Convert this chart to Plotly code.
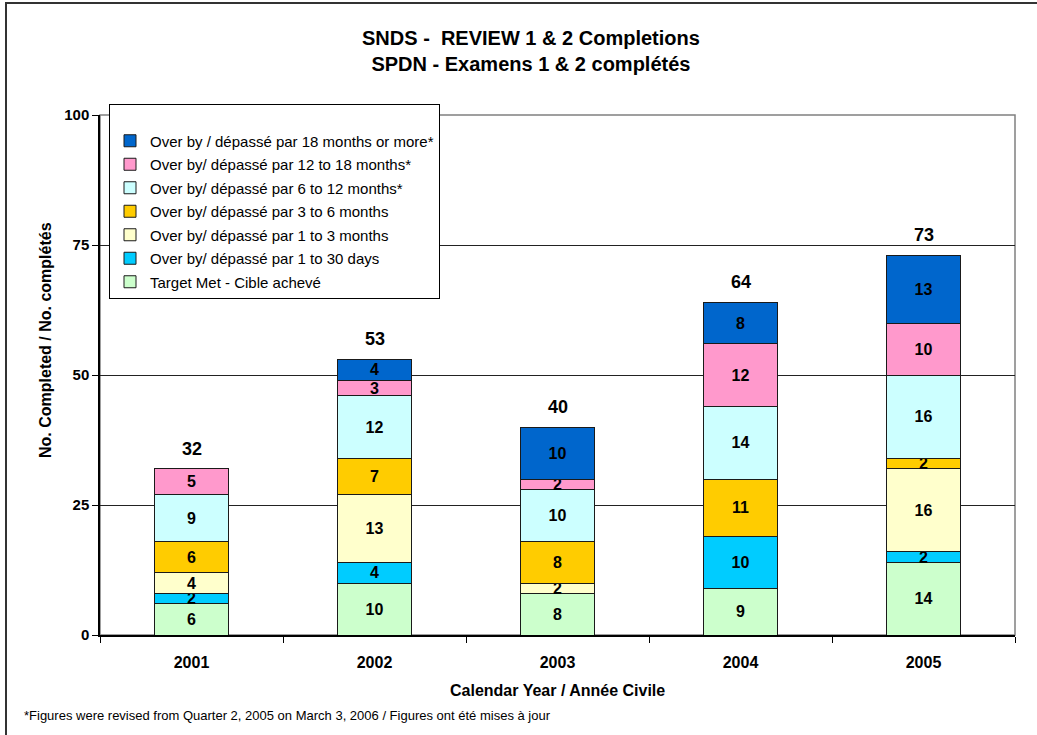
import plotly.graph_objects as go

years = ["2001", "2002", "2003", "2004", "2005"]

series_names = [
    "Target Met - Cible achevé",
    "Over by/ dépassé par 1 to 30 days",
    "Over by/ dépassé par 1 to 3 months",
    "Over by/ dépassé par 3 to 6 months",
    "Over by/ dépassé par 6 to 12 months*",
    "Over by/ dépassé par 12 to 18 months*",
    "Over by / dépassé par 18 months or more*",
]
target_met = [6, 10, 8, 9, 14]
days_1_30 = [2, 4, 0, 10, 2]
months_1_3 = [4, 13, 2, 0, 16]
months_3_6 = [6, 7, 8, 11, 2]
months_6_12 = [9, 12, 10, 14, 16]
months_12_18 = [5, 3, 2, 12, 10]
months_18_plus = [0, 4, 10, 8, 13]

series_values = [target_met, days_1_30, months_1_3, months_3_6,
                 months_6_12, months_12_18, months_18_plus]
series_colors = ["#CCFFCC", "#00CCFF", "#FFFFCC", "#FFCC00",
                 "#CCFFFF", "#FF99CC", "#0066CC"]

totals = [sum(v[i] for v in series_values) for i in range(len(years))]

y_ticks = [0, 25, 50, 75, 100]

FONT = "Liberation Sans, Arial, sans-serif"

fig = go.Figure()
n = len(series_names)
for i, (name, vals, col) in enumerate(zip(series_names, series_values, series_colors)):
    fig.add_trace(go.Bar(
        x=years, y=vals, name=name, legendgroup="g%d" % i, legendrank=100 + n - i,
        marker=dict(color=col, line=dict(color="#1a1a1a", width=1)),
        text=[str(v) if v else "" for v in vals],
        textposition="inside", insidetextanchor="middle", textangle=0,
        constraintext="none",
        textfont=dict(family=FONT, size=16, color="black", weight="bold"),
        hoverinfo="skip",
    ))

for i, tot in enumerate(totals):
    fig.add_annotation(x=i, y=tot, xref="x", yref="y", text="<b>%d</b>" % tot,
                       showarrow=False, yanchor="bottom", yshift=8,
                       font=dict(family=FONT, size=18, color="black"))

# plot-area border (grey, Excel style)
fig.add_shape(type="rect", xref="paper", yref="paper", x0=0, x1=1, y0=0, y1=1,
              line=dict(color="#808080", width=1.5), layer="below")
# outer chart frame
fig.add_shape(type="rect", xref="paper", yref="paper",
              x0=(6 - 100) / 915, x1=1.2, y0=-0.3, y1=(635 - 3) / 520,
              line=dict(color="#333333", width=2))

fig.add_annotation(xref="paper", yref="paper", x=(22 - 100) / 915, y=(635 - 715) / 520,
                   xanchor="left", yanchor="middle", showarrow=False,
                   text="*Figures were revised from Quarter 2, 2005 on March 3, 2006 / Figures ont été mises à jour",
                   font=dict(family=FONT, size=13, color="black"))

# axis titles
fig.add_annotation(xref="paper", yref="paper", x=(557 - 100) / 915, y=(635 - 690) / 520,
                   xanchor="center", yanchor="middle", showarrow=False,
                   text="<b>Calendar Year / Année Civile</b>",
                   font=dict(family=FONT, size=16, color="black"))
fig.add_annotation(xref="paper", yref="paper", x=(45 - 100) / 915, y=(635 - 340) / 520,
                   xanchor="center", yanchor="middle", showarrow=False, textangle=-90,
                   text="<b>No. Completed / No. complétés</b>",
                   font=dict(family=FONT, size=16, color="black"))

fig.update_layout(
    width=1037, height=735,
    margin=dict(l=100, r=22, t=115, b=100),
    paper_bgcolor="white", plot_bgcolor="white",
    barmode="stack", bargap=0.6,
    font=dict(family=FONT, color="black"),
    title=dict(text="<b>SNDS -  REVIEW 1 & 2 Completions<br>SPDN - Examens 1 & 2 complétés</b>",
               x=0.512, xanchor="center", y=1 - 45 / 735, yanchor="top",
               font=dict(family=FONT, size=20, color="black")),
    legend=dict(x=9 / 915, y=(635 - 104) / 520, xanchor="left", yanchor="top",
                bgcolor="white", bordercolor="black", borderwidth=1,
                traceorder="grouped", tracegroupgap=1, itemwidth=30,
                title=dict(text=" ", font=dict(size=15)),
                font=dict(family=FONT, size=15, color="black")),
    showlegend=True,
)

fig.update_xaxes(
    type="category", range=[-0.5, len(years) - 0.5],
    showline=True, linecolor="black", linewidth=1.5, mirror=False,
    ticks="outside", tickson="boundaries", ticklen=6, tickcolor="black",
    ticklabelstandoff=12,
    tickfont=dict(family=FONT, size=16, color="black", weight="bold"),
    showgrid=False,
)
fig.update_yaxes(
    range=[0, 100], tickvals=y_ticks, ticktext=[str(t) for t in y_ticks],
    showline=True, linecolor="black", linewidth=1.5,
    ticks="outside", ticklen=6, tickcolor="black",
    tickfont=dict(family=FONT, size=15, color="black", weight="bold"),
    showgrid=True, gridcolor="#222222", gridwidth=1,
    zeroline=False,
)

fig.write_html("out.html", config={"displayModeBar": False},
               post_script="document.body.style.margin='0';")
